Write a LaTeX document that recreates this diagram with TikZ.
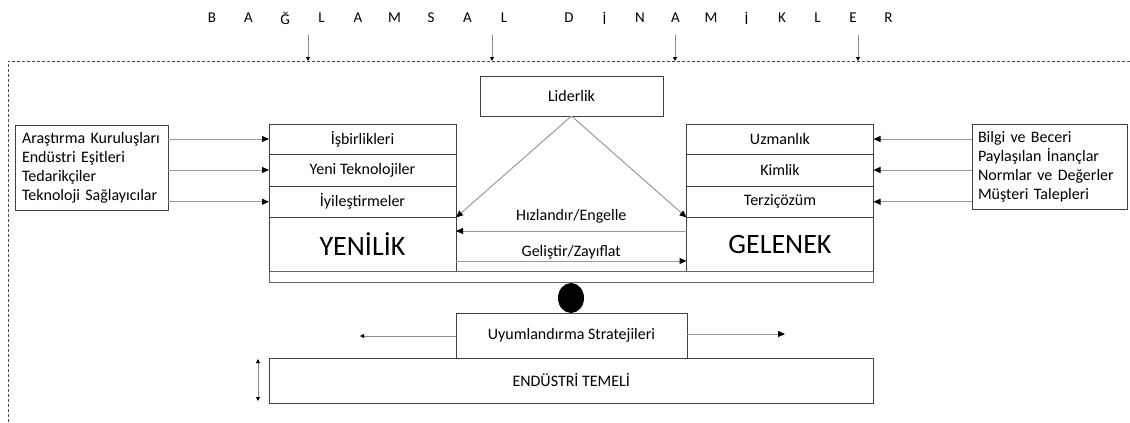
\documentclass[tikz,border=0pt]{standalone}
\usepackage{fontspec}
\setmainfont{Carlito}
\usetikzlibrary{arrows.meta,positioning,shapes.geometric}
\begin{document}
\begin{tikzpicture}[x=1pt,y=-1pt,line join=round,
    font=\fontsize{16}{19}\selectfont,
    >={Triangle[length=7pt,width=6pt,color=black]}]
  \tikzset{
    kutu/.style={draw=black!75,line width=1pt,inner sep=0pt,outer sep=0pt},
    satir/.style={kutu,minimum width=187pt,minimum height=#1},
    ok/.style={draw=black!40,line width=1pt,->},
    kucukok/.style={draw=black!45,line width=1pt,-{Triangle[length=4pt,width=4pt,color=black]}},
    ciftok/.style={draw=black!45,line width=1pt,{Triangle[length=4pt,width=4pt,color=black]}-{Triangle[length=4pt,width=4pt,color=black]}},
    harf/.style={font=\fontsize{15}{18}\selectfont}
  }
  \useasboundingbox (0,0) rectangle (1130,423);

  % baslik harfleri
  \foreach \h [count=\i] in {B,A,Ğ,L,A,M,S,A,L}
    \node[harf] (b\i) at ({212+36.5*(\i-1)},18) {\h};
  \foreach \h [count=\i] in {D,İ,N,A,M,İ,K,L,E,R}
    \node[harf] (d\i) at ({569+35.5*(\i-1)},18) {\h};

  % kesik cerceve ve ustten gelen oklar
  \draw[black!70,line width=0.8pt,dash pattern=on 3pt off 2pt] (1130,61) -- (8,61) -- (8,423);
  \foreach \x [count=\i] in {308,492,675,858}{
    \coordinate (u\i) at (\x,35);
    \coordinate (a\i) at (\x,61);
    \draw[kucukok] (u\i) -- (a\i);
  }

  \node[kutu,minimum width=183pt,minimum height=40pt] (lider) at (571.5,96) {Liderlik};

  % yenilik tarafi
  \node[satir=30pt] (isb) at (362.5,139) {İşbirlikleri};
  \node[satir=32pt,below=0pt of isb] (yeni) {Yeni Teknolojiler};
  \node[satir=31.5pt,below=0pt of yeni] (iyi) {İyileştirmeler};
  \node[satir=53.5pt,below=0pt of iyi,font=\fontsize{28}{32}\selectfont] (yenilik) {YENİLİK};

  % gelenek tarafi
  \node[satir=30pt] (uzm) at (780,139) {Uzmanlık};
  \node[satir=32pt,below=0pt of uzm] (kim) {Kimlik};
  \node[satir=31.5pt,below=0pt of kim] (ter) {Terziçözüm};
  \node[satir=53.5pt,below=0pt of ter,font=\fontsize{28}{32}\selectfont] (gelenek) {GELENEK};

  % kiris, destek ve taban
  \node[kutu,draw=black!60,minimum width=604.5pt,minimum height=11pt] (kiris) at (571.25,276.5) {};
  \node[ellipse,fill=black,minimum width=26pt,minimum height=30pt,inner sep=0pt] (destek) at (571,298) {};
  \node[kutu,minimum width=231pt,minimum height=45pt] (uyum) at (571.5,335.5) {Uyumlandırma Stratejileri};
  \node[kutu,minimum width=604.5pt,minimum height=45pt] (temel) at (571.25,380.5) {ENDÜSTRİ TEMELİ};

  % kaynak kutulari
  \node[kutu,text width=139pt,inner xsep=7pt,minimum height=85pt,align=left] (arge) at (91.5,167.5)
    {Araştırma Kuruluşları\\Endüstri Eşitleri\\Tedarikçiler\\Teknoloji Sağlayıcılar};
  \node[kutu,text width=143pt,inner xsep=6pt,minimum height=85pt,align=left] (bilgi) at (1049.5,166.5)
    {Bilgi ve Beceri\\Paylaşılan İnançlar\\Normlar ve Değerler\\Müşteri Talepleri};

  \foreach \n in {isb,yeni,iyi}
    \draw[ok] (arge.east |- \n.west) -- (\n.west);
  \foreach \n in {uzm,kim,ter}
    \draw[ok] (bilgi.west |- \n.east) -- (\n.east);

  \draw[ok] (lider.south) -- (yenilik.north east);
  \draw[ok] (lider.south) -- (gelenek.north west);
  \draw[ok] (gelenek.west |- 0,231) -- node[above=4pt] {Hızlandır/Engelle} (yenilik.east |- 0,231);
  \draw[ok] (yenilik.east |- 0,261) -- node[above,inner sep=1pt] {Geliştir/Zayıflat} (gelenek.west |- 0,261);

  % yanlara acilan oklar
  \coordinate (solok) at (360,336);
  \coordinate (sagok) at (785,334);
  \draw[kucukok] (uyum.west |- solok) -- (solok);
  \draw[ok] (uyum.east |- sagok) -- (sagok);
  \coordinate (ustuc) at (258,359);
  \coordinate (altuc) at (258,401);
  \draw[ciftok] (ustuc) -- (altuc);
\end{tikzpicture}
\end{document}
